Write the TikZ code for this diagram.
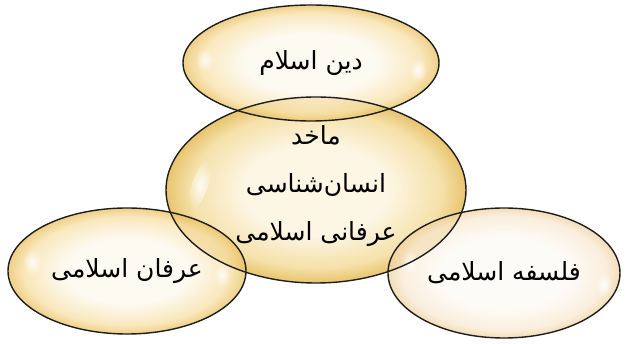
\documentclass[tikz,border=0pt]{standalone}
\usepackage{fontspec}
\TeXXeTstate=1
\newfontfamily\arabicfont[Script=Arabic]{DejaVu Sans}
\usetikzlibrary{shapes.geometric,fadings}
\definecolor{rimc}{HTML}{1E1E1E}
\definecolor{cin}{HTML}{FCF3DC}
\definecolor{cmid}{HTML}{F2D68C}
\definecolor{cout}{HTML}{E0B03C}
\definecolor{tin}{HTML}{FDF8EC}
\definecolor{tmid}{HTML}{F7E0A6}
\definecolor{tout}{HTML}{EABF5E}
\definecolor{rin}{HTML}{FDF9F4}
\definecolor{rmid}{HTML}{F8E9D2}
\definecolor{rout}{HTML}{EFD19E}
\pgfdeclareradialshading{shcenter}{\pgfpoint{0bp}{0bp}}{color(0bp)=(cin); color(12bp)=(cin); color(21bp)=(cmid); color(25bp)=(cout); color(50bp)=(cout)}
\pgfdeclareradialshading{shside}{\pgfpoint{0bp}{0bp}}{color(0bp)=(tin); color(13bp)=(tin); color(21.5bp)=(tmid); color(25bp)=(tout); color(50bp)=(tout)}
\pgfdeclareradialshading{shright}{\pgfpoint{0bp}{0bp}}{color(0bp)=(rin); color(14bp)=(rin); color(22bp)=(rmid); color(25bp)=(rout); color(50bp)=(rout)}
\tikzfading[name=glowfade, inner color=transparent!0, outer color=transparent!100]
\tikzset{
  bubble/.style={ellipse, draw=none, fill opacity=0.75, text opacity=1,
    inner sep=0pt, font=\arabicfont\fontsize{25}{48}\selectfont, align=center, text=black},
  bubbletext/.style={font=\arabicfont\fontsize{25}{48}\selectfont, align=center, text=black},
  rim/.style={draw=rimc, line width=1.4pt},
  glint/.style={fill=white, fill opacity=0.85, path fading=glowfade},
}
\begin{document}
\begin{tikzpicture}[x=1pt,y=-1pt]
\useasboundingbox (0,0) rectangle (627,344);
% fills
\node[bubble, shading=shcenter, minimum width=300, minimum height=186] (center) at (316,190) {};
\node[bubble, shading=shside, minimum width=256, minimum height=116] (din) at (311,63) {};
\node[bubble, shading=shside, minimum width=238, minimum height=126] (erfan) at (127,271) {};
\node[bubble, shading=shright, minimum width=232, minimum height=130] (falsafe) at (504,273) {};
% glints
\fill[glint, rotate around={-20:(200,185)}] (200,185) ellipse [x radius=8, y radius=28];
\fill[glint] (205,60) ellipse [x radius=9, y radius=12];
\fill[glint] (418,70) ellipse [x radius=9, y radius=12];
\fill[glint] (32,262) ellipse [x radius=9, y radius=13];
\fill[glint] (222,275) ellipse [x radius=8, y radius=12];
\fill[glint] (410,262) ellipse [x radius=8, y radius=12];
\fill[glint] (604,285) ellipse [x radius=8, y radius=13];
% outlines
\draw[rim] (center.center) ellipse [x radius=150, y radius=93];
\draw[rim] (din.center) ellipse [x radius=128, y radius=58];
\draw[rim] (erfan.center) ellipse [x radius=119, y radius=63];
\draw[rim] (falsafe.center) ellipse [x radius=116, y radius=65];
% texts
\node[bubbletext] (dintext) at (din.center) {\beginR دین اسلام\endR};
\node[bubbletext] (erfantext) at (erfan.center) {\beginR عرفان اسلامی\endR};
\node[bubbletext] (falsafetext) at (falsafe.center) {\beginR فلسفه اسلامی\endR};
\node[bubbletext] (centertext) at (316,186) {\beginR ماخد\endR\\\beginR انسان‌شناسی\endR\\\beginR عرفانی اسلامی\endR};
\end{tikzpicture}
\end{document}
